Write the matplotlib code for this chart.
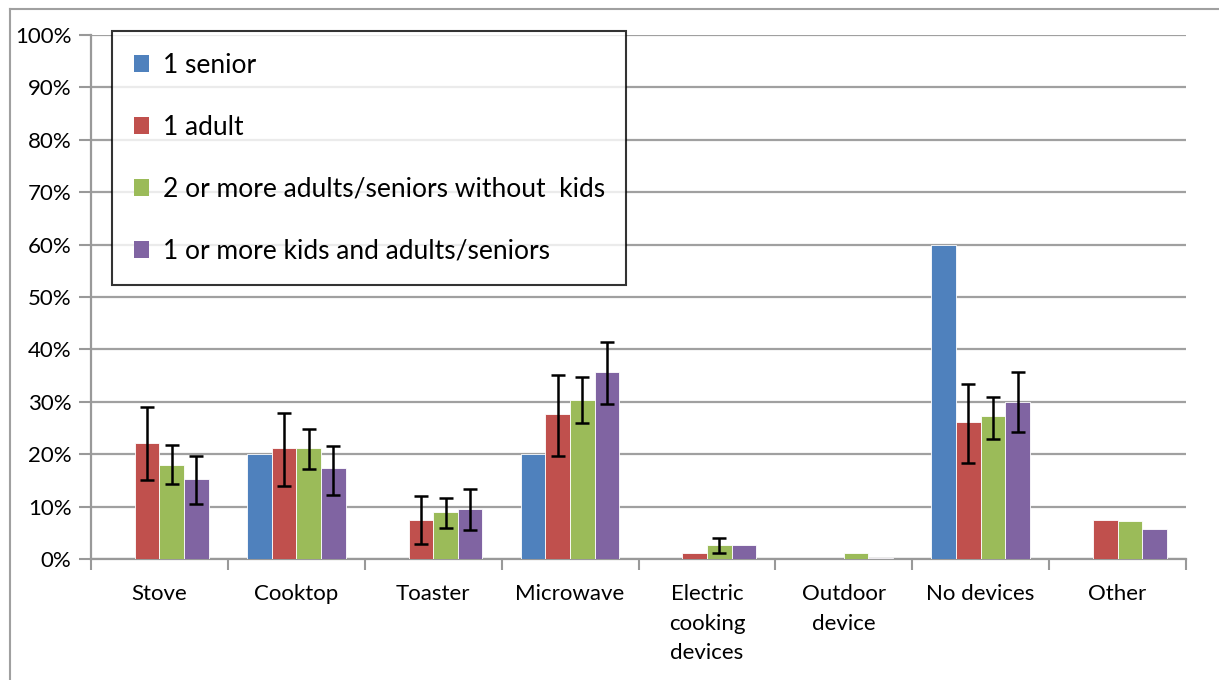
import numpy as np
import matplotlib
matplotlib.use("Agg")
import matplotlib.pyplot as plt
from matplotlib.patches import Patch
from matplotlib.lines import Line2D
from matplotlib.ticker import FuncFormatter, FixedLocator

plt.rcParams['font.family'] = ['Lato', 'DejaVu Sans']

categories = ["Stove", "Cooktop", "Toaster", "Microwave",
              "Electric\ncooking\ndevices", "Outdoor\ndevice", "No devices", "Other"]
series_names = ["1 senior", "1 adult", "2 or more adults/seniors without  kids",
                "1 or more kids and adults/seniors"]
colors = ["#4F81BD", "#C0504D", "#9BBB59", "#8064A2"]

senior = [0, 20.0, 0, 20.0, 0, 0, 60.0, 0]
adult = [22.1, 21.1, 7.5, 27.6, 1.2, 0, 26.2, 7.5]
multi = [17.9, 21.1, 8.9, 30.3, 2.7, 1.2, 27.3, 7.2]
kids = [15.2, 17.3, 9.6, 35.6, 2.7, 0.25, 30.0, 5.8]

nan = np.nan
senior_lo = [nan] * 8
senior_hi = [nan] * 8
adult_lo = [15.0, 14.0, 2.8, 19.7, nan, nan, 18.4, nan]
adult_hi = [29.0, 27.9, 12.0, 35.1, nan, nan, 33.4, nan]
multi_lo = [14.3, 17.1, 6.0, 26.0, 1.1, nan, 22.9, nan]
multi_hi = [21.7, 24.8, 11.6, 34.8, 4.0, nan, 31.0, nan]
kids_lo = [10.5, 12.2, 5.6, 29.5, nan, nan, 24.3, nan]
kids_hi = [19.6, 21.6, 13.3, 41.5, nan, nan, 35.6, nan]

yticks = [0, 10, 20, 30, 40, 50, 60, 70, 80, 90, 100]

values = [senior, adult, multi, kids]
lows = [senior_lo, adult_lo, multi_lo, kids_lo]
highs = [senior_hi, adult_hi, multi_hi, kids_hi]

W, H = 1219, 680
fig = plt.figure(figsize=(W / 100, H / 100), dpi=100)
ax = fig.add_axes([91 / W, 1 - 559 / H, (1186 - 91) / W, (559 - 35) / H])

x = np.arange(len(categories))
bw = 0.18
for j in range(4):
    xs = x + (j - 1.5) * bw
    v = np.array(values[j], dtype=float)
    ax.bar(xs, v, width=bw, color=colors[j], edgecolor="white", linewidth=0.6, zorder=3)
    lo = np.array(lows[j], dtype=float)
    hi = np.array(highs[j], dtype=float)
    mask = ~np.isnan(lo)
    if mask.any():
        ax.errorbar(xs[mask], v[mask], yerr=[v[mask] - lo[mask], hi[mask] - v[mask]],
                    fmt="none", ecolor="black", elinewidth=1.8, capsize=5, capthick=1.8, zorder=4)

ax.set_xlim(-0.5, len(categories) - 0.5)
ax.set_ylim(0, 100)
ax.set_yticks(yticks)
ax.yaxis.set_major_formatter(FuncFormatter(lambda v, p: f"{int(v)}%"))
ax.grid(axis="y", color="#A0A0A0", linewidth=1.6, zorder=0)
ax.set_axisbelow(True)

ax.set_xticks(x)
ax.set_xticklabels(categories, fontsize=16, linespacing=1.6, va="top")
ax.tick_params(axis="x", which="major", length=0, pad=18)
ax.xaxis.set_minor_locator(FixedLocator(np.arange(-0.5, len(categories), 1.0)))
ax.tick_params(axis="x", which="minor", length=8, width=1.5, color="#999999", direction="out")
ax.tick_params(axis="y", length=9, width=1.5, color="#999999", labelsize=16, pad=5)

for s in ["top", "right"]:
    ax.spines[s].set_visible(False)
for s in ["left", "bottom"]:
    ax.spines[s].set_color("#999999")
    ax.spines[s].set_linewidth(1.6)

handles = [Patch(facecolor=c, edgecolor="none") for c in colors]
leg = ax.legend(handles, series_names, loc="upper left",
                bbox_to_anchor=(112 / W, 1 - 31 / H), bbox_transform=fig.transFigure,
                fontsize=19, frameon=True, fancybox=False, borderaxespad=0,
                handlelength=0.6, handleheight=0.6, handletextpad=0.5,
                labelspacing=1.4, borderpad=0.82)
leg.get_frame().set_edgecolor("black")
leg.get_frame().set_linewidth(1.5)
leg.set_zorder(10)

# outer chart border (left and top visible)
fig.add_artist(Line2D([10 / W, 10 / W], [0, 1 - 9 / H], transform=fig.transFigure,
                      color="#A0A0A0", linewidth=1.5))
fig.add_artist(Line2D([10 / W, 1], [1 - 9 / H, 1 - 9 / H], transform=fig.transFigure,
                      color="#A0A0A0", linewidth=1.5))

fig.savefig("out.png", dpi=100)
